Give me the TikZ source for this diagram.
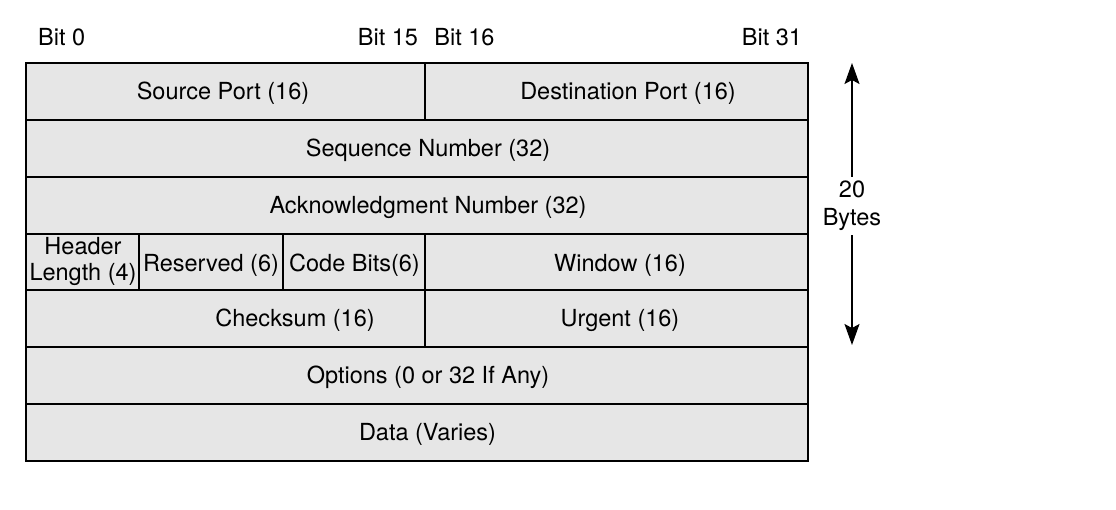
\documentclass[tikz,border=0pt]{standalone}
\usepackage{fontspec}
\setmainfont{TeX Gyre Heros}
\usetikzlibrary{arrows.meta}
\definecolor{cellgray}{HTML}{E6E6E6}
\tikzset{
	cell/.style={fill=cellgray, draw=black, line width=1.4pt},
	field/.style={inner sep=0pt, font=\fontsize{23.5}{26}\selectfont, align=center},
	bytearrow/.style={line width=1.4pt, -{Stealth[width=15pt,length=21pt,inset=4pt]}}
}
\begin{document}
\begin{tikzpicture}[x=1pt,y=-1pt]
	\useasboundingbox (0,0) rectangle (1116,509);
	% cells
	\draw [cell] (26,63) rectangle (425,120) (425,63) rectangle (808,120);
	\draw [cell] (26,120) rectangle (808,177);
	\draw [cell] (26,177) rectangle (808,234);
	\draw [cell] (26,234) rectangle (139,290) (139,234) rectangle (283,290)
		(283,234) rectangle (425,290) (425,234) rectangle (808,290);
	\draw [cell] (26,290) rectangle (425,347) (425,290) rectangle (808,347);
	\draw [cell] (26,347) rectangle (808,404);
	\draw [cell] (26,404) rectangle (808,461);
	% bit labels
	\node [field, anchor=west] (bit0) at (38,37) {Bit 0};
	\node [field] (bit15) at (388,37) {Bit 15};
	\node [field] (bit16) at (464.5,37) {Bit 16};
	\node [field] (bit31) at (772,37) {Bit 31};
	% fields
	\node [field] (srcport) at (223,93.5) {Source Port (16)};
	\node [field] (dstport) at (628,93.5) {Destination Port (16)};
	\node [field] (seqnum) at (428,150.5) {Sequence Number (32)};
	\node [field] (acknum) at (428,207.5) {Acknowledgment Number (32)};
	\node [field] (hlen) at (83,261.5) {Header\\Length (4)};
	\node [field] (reserved) at (211,265) {Reserved (6)};
	\node [field] (codebits) at (354.5,265) {Code Bits(6)};
	\node [field] (window) at (620,265) {Window (16)};
	\node [field] (checksum) at (295,320.5) {Checksum (16)};
	\node [field] (urgent) at (620,320.5) {Urgent (16)};
	\node [field] (options) at (428,377.5) {Options (0 or 32 If Any)};
	\node [field] (data) at (427.5,434.5) {Data (Varies)};
	% header size
	\coordinate (top) at (852,63);
	\coordinate (bottom) at (852,345);
	\node [field, font=\fontsize{23.5}{28}\selectfont] (bytes) at (852,206) {20\\Bytes};
	\draw [bytearrow] (bytes.north) ++(0,-4) -- (top);
	\draw [bytearrow] (bytes.south) ++(0,4) -- (bottom);
\end{tikzpicture}
\end{document}
